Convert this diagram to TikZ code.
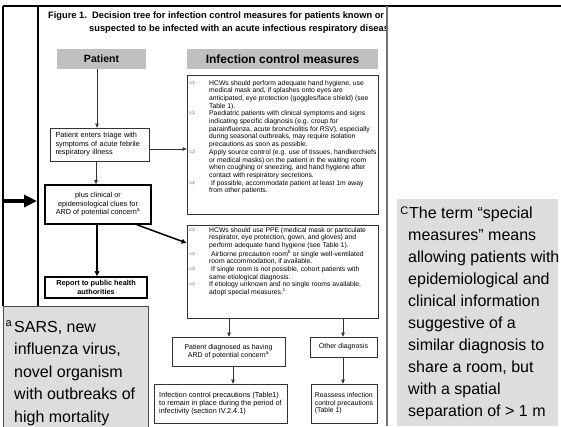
\documentclass[tikz,border=0pt]{standalone}
\usepackage{fontspec}
\setmainfont{Liberation Sans}
\newfontfamily\symf{DejaVu Sans}
\usetikzlibrary{arrows.meta}
\definecolor{hdrgray}{HTML}{C0C0C0}
\definecolor{notegray}{HTML}{DDDDDD}
\definecolor{linegray}{HTML}{333333}
\definecolor{bulgray}{HTML}{6E6E6E}
\newcommand{\bu}{\makebox[20pt][l]{\textcolor{bulgray}{\symf\fontsize{7.5}{7.5}\selectfont ⇨}}}
\tikzset{
  box/.style={draw=linegray, line width=0.7pt, inner sep=2pt, align=center,
    font=\fontsize{7}{8.5}\selectfont},
  thickbox/.style={box, draw=black, line width=1.6pt, font=\fontsize{7.3}{8.5}\selectfont},
  hdr/.style={fill=hdrgray, inner sep=0pt},
  ictext/.style={anchor=base west, inner sep=0pt, font=\fontsize{6.8}{7.7}\selectfont},
  notetext/.style={anchor=base west, inner sep=0pt},
  titletext/.style={anchor=base west, inner sep=0pt, font=\bfseries\fontsize{9.3}{11}\selectfont},
  arr/.style={draw=linegray, line width=0.7pt, -{Triangle[length=4pt,width=3.5pt]}},
  thickarr/.style={draw=black, line width=1.5pt, -{Triangle[length=5pt,width=4.5pt]}},
}
\begin{document}
\begin{tikzpicture}[x=1pt,y=-1pt]
\useasboundingbox (0,0) rectangle (561,426);
% frame and footnote panels
\fill[notegray] (397,199) rectangle (558,426);
\draw[line width=1.8pt] (3,6) -- (561,6);
\draw[line width=1.2pt] (3,6) -- (3,306);
\draw[line width=1.2pt] (38,6) -- (38,306);
\draw[line width=1.6pt, draw=black!55] (387,6) -- (387,426);
\filldraw[fill=notegray, draw=black!70, line width=0.8pt] (3,427) -- (3,306) -- (148,306) -- (148,427);
% title
\begin{scope}
\clip (0,0) rectangle (385.5,45);
\node[titletext] (t1) at (48,18) {Figure 1.\ \ Decision tree for infection control measures for patients known or};
\node[titletext] (t2) at (89,31) {suspected to be infected with an acute infectious respiratory disease};
\end{scope}
% headers
\node[hdr, minimum width=89pt, minimum height=20pt, font=\bfseries\fontsize{10.5}{12}\selectfont] (hpat) at (101.5,59) {Patient};
\node[hdr, minimum width=191pt, minimum height=20pt, font=\bfseries\fontsize{12}{14}\selectfont] (hic) at (282.5,59) {Infection control measures};
% left column
\node[box, font=\fontsize{7.3}{8.5}\selectfont, minimum width=99pt, minimum height=33pt, text width=88pt, align=left, inner xsep=5.5pt] (triage) at (99.5,144.5) {Patient enters triage with\\symptoms of acute febrile\\respiratory illness};
\node[thickbox, minimum width=106pt, minimum height=39pt] (clues) at (98,204.5) {plus clinical or\\epidemiological clues for\\ARD of potential concern\textsuperscript{a}};
\node[thickbox, font=\bfseries\fontsize{7.3}{8.3}\selectfont, minimum width=102pt, minimum height=21pt] (report) at (96,287.5) {Report to public health\\authorities};
% measure boxes
\node[box, minimum width=191pt, minimum height=139pt] (ic1) at (282.5,144.5) {};
\node[box, minimum width=191pt, minimum height=93pt] (ic2) at (282.5,271.5) {};
\node[ictext] (ic1t) at (189,85) {\begin{tabular}[t]{@{}l@{}l@{}}
\bu & HCWs should perform adequate hand hygiene, use\\
 & medical mask and, if splashes onto eyes are\\
 & anticipated, eye protection (goggles/face shield) (see\\
 & Table 1).\\
\bu & Paediatric patients with clinical symptoms and signs\\
 & indicating specific diagnosis (e.g. croup for\\
 & parainfluenza, acute bronchiolitis for RSV), especially\\
 & during seasonal outbreaks, may require isolation\\
 & precautions as soon as possible.\\
\bu & Apply source control (e.g. use of tissues, handkerchiefs\\
 & or medical masks) on the patient in the waiting room\\
 & when coughing or sneezing, and hand hygiene after\\
 & contact with respiratory secretions.\\
\bu & \hspace{2pt}If possible, accommodate patient at least 1m away\\
 & from other patients.
\end{tabular}};
\node[ictext] (ic2t) at (189,232) {\begin{tabular}[t]{@{}l@{}l@{}}
\bu & HCWs should use PPE (medical mask or particulate\\
 & respirator, eye protection, gown, and gloves) and\\
 & perform adequate hand hygiene (see Table 1).\\
\bu & \hspace{2pt}Airborne precaution room\textsuperscript{b} or single well-ventilated\\
 & room accommodation, if available.\\
\bu & \hspace{2pt}If single room is not possible, cohort patients with\\
 & same etiological diagnosis.\\
\bu & If etiology unknown and no single rooms available,\\
 & adopt special measures.\textsuperscript{c}
\end{tabular}};
% outcome boxes
\node[box, minimum width=113pt, minimum height=29pt] (diag) at (228.5,351.5) {Patient diagnosed as having\\ARD of potential concern\textsuperscript{a}};
\node[box, minimum width=67pt, minimum height=20pt] (other) at (343.5,347) {Other diagnosis};
\node[box, font=\fontsize{7.3}{7.7}\selectfont, align=left, minimum width=133pt, minimum height=39pt] (icp) at (220.5,403.5) {Infection control precautions (Table1)\\to remain in place during the period of\\infectivity (section IV.2.4.1)};
\node[box, font=\fontsize{6.9}{7.7}\selectfont, align=left, minimum width=66pt, minimum height=39pt] (reassess) at (344,403.5) {Reassess infection\\control precautions\\(Table 1)};
% footnotes
\node[notetext, font=\fontsize{16}{22.5}\selectfont] (fna) at (14,332) {\begin{tabular}[t]{@{}l@{}}
\llap{\raisebox{6pt}{\fontsize{11}{11}\selectfont a}\hspace{2.5pt}}SARS, new\\
influenza virus,\\
novel organism\\
with outbreaks of\\
high mortality
\end{tabular}};
\node[notetext, font=\fontsize{16}{22}\selectfont] (fnc) at (408,218) {\begin{tabular}[t]{@{}l@{}}
\llap{\raisebox{3.5pt}{\fontsize{11}{11}\selectfont C}}\hspace{1pt}The term “special\\
measures” means\\
allowing patients with\\
epidemiological and\\
clinical information\\
suggestive of a\\
similar diagnosis to\\
share a room, but\\
with a spatial\\
separation of > 1 m
\end{tabular}};
% connector helpers
\coordinate (colA) at (97,0);
\coordinate (colB) at (96,0);
\coordinate (colC) at (229,0);
\coordinate (colD) at (343,0);
\coordinate (colE) at (233,0);
\coordinate (rowB) at (0,149);
\coordinate (la) at (3,201);
\coordinate (lb) at (37,201);
% connectors
\draw[arr] (hpat.south -| colA) -- (triage.north -| colA);
\draw[arr] (triage.east |- rowB) -- (ic1.west |- rowB);
\draw[arr] (triage.south -| colB) -- (clues.north -| colB);
\draw[thickarr] (clues.south -| colA) -- (report.north -| colA);
\draw[thickarr] ([xshift=39pt]clues.south) -- ([yshift=28.5pt]ic2.west);
\draw[arr] (ic2.south -| colC) -- (diag.north -| colC);
\draw[arr] (ic2.south -| colD) -- (other.north -| colD);
\draw[arr] (diag.south -| colE) -- (icp.north -| colE);
\draw[arr] (other.south -| colD) -- (reassess.north -| colD);
\draw[line width=4pt, -{Triangle[length=13pt,width=12pt]}] (la) -- (lb);
\end{tikzpicture}
\end{document}
